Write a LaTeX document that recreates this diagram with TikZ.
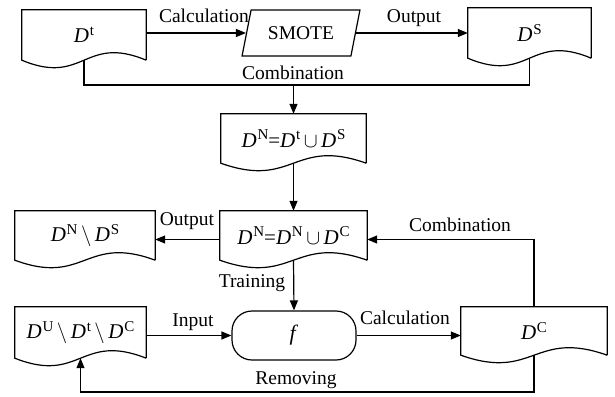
\documentclass[tikz,border=0pt]{standalone}
\usepackage{fontspec}
\setmainfont{Liberation Serif}
\usetikzlibrary{calc,arrows.meta,shapes.geometric}
\newcommand\Dv[1]{\textit{D}\kern0.8pt\raisebox{0.36em}{\fontsize{15}{15}\selectfont #1}}
\newcommand\docout[1]{\draw[outline] (#1.south east) -- (#1.north east) -- (#1.north west) -- (#1.south west) .. controls ($(#1.south west)!0.5!(#1.south east)+(0,26)$) and ($(#1.south west)!0.5!(#1.south east)+(0,-26)$) .. (#1.south east);}
\begin{document}
\begin{tikzpicture}[x=1pt,y=-1pt,
  font=\fontsize{19.5}{23}\selectfont,
  outline/.style={line width=1.2pt, line join=miter},
  docbox/.style={rectangle, inner sep=0pt, draw=none, font=\fontsize{21}{24}\selectfont},
  arr/.style={outline, -{Triangle[length=10pt,width=8pt]}},
  lbl/.style={inner sep=0pt}]
\useasboundingbox (0,0) rectangle (615,396);
% nodes
\node[docbox, minimum width=124pt, minimum height=50pt] (Dt) at (84,35) {\Dv{t}};
\node[trapezium, trapezium left angle=65.5, trapezium right angle=114.5, trapezium stretches=true, minimum width=118pt, minimum height=46pt, draw, outline, inner sep=0pt] (smote) at (301,33) {SMOTE};
\node[docbox, minimum width=123pt, minimum height=50pt] (DS) at (529.5,33) {\Dv{S}};
\node[docbox, minimum width=145pt, minimum height=49pt] (DN1) at (293.5,138.5) {\Dv{N}=\Dv{t}\,$\cup$\,\Dv{S}};
\node[docbox, minimum width=147pt, minimum height=49pt] (DN2) at (293.5,235.5) {\Dv{N}=\Dv{N}\,$\cup$\,\Dv{C}};
\node[docbox, minimum width=140pt, minimum height=49pt] (DNS) at (85,235.5) {\Dv{N}\,$\setminus$\,\Dv{S}};
\node[docbox, minimum width=131pt, minimum height=51pt] (DU) at (80.5,332.5) {\Dv{U}\,$\setminus$\,\Dv{t}\,$\setminus$\,\Dv{C}};
\node[draw, outline, rounded corners=20pt, minimum width=124pt, minimum height=49pt, inner sep=0pt] (f) at (294,335.5) {\fontsize{22}{24}\selectfont\textit{f}};
\node[docbox, minimum width=146pt, minimum height=48pt] (DC) at (534,331) {\Dv{C}};
\docout{Dt}
\docout{DS}
\docout{DN1}
\docout{DN2}
\docout{DNS}
\docout{DU}
\docout{DC}
% connectors
\coordinate (comb) at (293.5,85);
\coordinate (rm) at (300,392);
\draw[arr] (Dt.east |- smote.west) -- (smote.west);
\draw[arr] (smote.east) -- (smote.east -| DS.west);
\draw[outline] (Dt.south) |- (comb) -| (DS.south);
\draw[arr] (comb) -- (DN1.north);
\draw[arr] (DN1.south) -- (DN2.north);
\draw[arr] ([yshift=-4pt]DN2.west) -- ([yshift=-4pt]DN2.west -| DNS.east);
\draw[arr] (DC.north) |- ([yshift=-4pt]DN2.east);
\draw[arr] (DN2.south) -- (f.north);
\draw[arr] ([yshift=-3pt]DU.east) -- ([yshift=-3pt]DU.east -| f.west);
\draw[arr] (f.east) -- (f.east -| DC.west);
\draw[arr] (DC.south) |- (rm) -| (DU.south);
% labels
\node[lbl] (l1) at (204,16) {Calculation};
\node[lbl] (l2) at (414,18) {Output};
\node[lbl] (l3) at (293,73) {Combination};
\node[lbl] (l4) at (187,221) {Output};
\node[lbl] (l5) at (460,225) {Combination};
\node[lbl] (l6) at (252,283) {Training};
\node[lbl] (l7) at (193,322) {Input};
\node[lbl] (l8) at (405,318) {Calculation};
\node[lbl] (l9) at (296,380) {Removing};
\end{tikzpicture}
\end{document}
